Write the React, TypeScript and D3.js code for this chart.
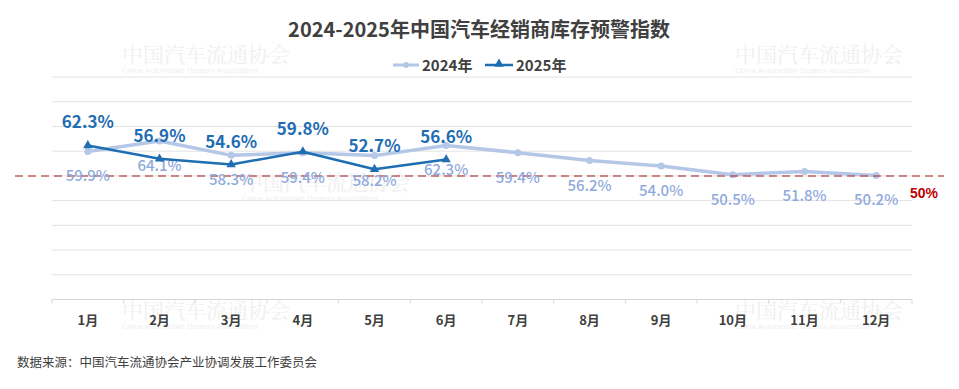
import React from "react";
import * as d3 from "d3";

// data
const MONTHS = ["1月", "2月", "3月", "4月", "5月", "6月", "7月", "8月", "9月", "10月", "11月", "12月"];
const VALUES_2024 = [59.9, 64.1, 58.3, 59.4, 58.2, 62.3, 59.4, 56.2, 54.0, 50.5, 51.8, 50.2];
const VALUES_2025 = [62.3, 56.9, 54.6, 59.8, 52.7, 56.6];
const Y_TICKS = [0, 10, 20, 30, 40, 50, 60, 70, 80, 90];
const WARN_LINE = 50;
const WATERMARKS = [
  [122, 62],
  [735, 62],
  [242, 190],
  [122, 318],
  [735, 318],
];

const W = 959;
const H = 389;
const FONT = '"Noto Sans CJK SC", "Noto Sans", sans-serif';
const C2024 = "#b4c7e7";
const C2024_TEXT = "#8faadc";
const C2025 = "#1f6db3";
const TEXT = "#404040";

export default function App() {
  const x = d3.scaleBand<string>().domain(MONTHS).range([52, 912]);
  const y = d3.scaleLinear().domain([0, 90]).range([299.5, 77]);
  const cx = (i: number) => (x(MONTHS[i]) as number) + x.bandwidth() / 2;

  const line = d3
    .line<number>()
    .x((_, i) => cx(i))
    .y((d) => y(d));

  const tri = d3.symbol().type(d3.symbolTriangle).size(38)() as string;

  return (
    <svg
      width={W}
      height={H}
      style={{ position: "absolute", left: 0, top: 0, background: "#fff" }}
      fontFamily={FONT}
    >
      {/* watermarks */}
      {WATERMARKS.map(([wx, wy], i) => (
        <g key={i} opacity={0.45}>
          <text x={wx} y={wy} fontSize={21} fontFamily='"Noto Serif CJK SC", serif' fill="#dddddd">
            中国汽车流通协会
          </text>
          <text x={wx} y={wy + 11} fontSize={8} fontFamily="Liberation Sans" fill="#dddddd">
            China Automobile Dealers Association
          </text>
        </g>
      ))}

      <text x={479} y={37} textAnchor="middle" fontSize={20} fontWeight="bold" fill={TEXT}>
        2024-2025年中国汽车经销商库存预警指数
      </text>

      {/* legend */}
      <g>
        <line x1={393} x2={419} y1={65} y2={65} stroke={C2024} strokeWidth={3} />
        <circle cx={406} cy={65} r={3} fill={C2024} />
        <text x={422} y={71} fontSize={15} fontWeight="bold" fill={TEXT}>
          2024年
        </text>
        <line x1={485} x2={513} y1={65} y2={65} stroke={C2025} strokeWidth={2.5} />
        <path d={tri} transform="translate(499,64)" fill={C2025} />
        <text x={516} y={71} fontSize={15} fontWeight="bold" fill={TEXT}>
          2025年
        </text>
      </g>

      {/* grid */}
      {Y_TICKS.filter((t) => t > 0).map((t) => (
        <line key={t} x1={52} x2={912} y1={y(t)} y2={y(t)} stroke="#e3e3e3" strokeWidth={1} />
      ))}
      <line x1={52} x2={912} y1={y(0)} y2={y(0)} stroke="#d6d6d6" strokeWidth={1} />
      {d3.range(MONTHS.length + 1).map((i) => {
        const tx = 52 + i * x.bandwidth();
        return <line key={i} x1={tx} x2={tx} y1={y(0)} y2={y(0) + 4} stroke="#d6d6d6" />;
      })}

      {MONTHS.map((m, i) => (
        <text key={m} x={cx(i)} y={325} textAnchor="middle" fontSize={13} fontWeight="bold" fill={TEXT}>
          {m}
        </text>
      ))}

      {/* 2024 series */}
      <path d={line(VALUES_2024) as string} fill="none" stroke={C2024} strokeWidth={3.5} strokeLinejoin="round" />
      {VALUES_2024.map((v, i) => (
        <circle key={i} cx={cx(i)} cy={y(v)} r={3.5} fill={C2024} />
      ))}

      {/* warning line */}
      <line
        x1={15}
        x2={944}
        y1={y(WARN_LINE)}
        y2={y(WARN_LINE)}
        stroke="#b5474a"
        strokeWidth={1.5}
        strokeDasharray="8,5"
        opacity={0.85}
      />
      <text
        x={924}
        y={198}
        textAnchor="middle"
        fontSize={14}
        fontWeight="bold"
        fontFamily='"Liberation Sans Narrow", "Liberation Sans", sans-serif'
        fill="#c00000"
      >
        {WARN_LINE}%
      </text>

      {VALUES_2024.map((v, i) => (
        <text key={i} x={cx(i)} y={y(v) + 30} textAnchor="middle" fontSize={15} fontWeight={500} fill={C2024_TEXT}>
          {v.toFixed(1)}%
        </text>
      ))}

      {/* 2025 series */}
      <path d={line(VALUES_2025) as string} fill="none" stroke={C2025} strokeWidth={2.5} strokeLinejoin="round" />
      {VALUES_2025.map((v, i) => (
        <path key={i} d={tri} transform={`translate(${cx(i)},${y(v)})`} fill={C2025} />
      ))}
      {VALUES_2025.map((v, i) => (
        <text key={i} x={cx(i)} y={y(v) - 17} textAnchor="middle" fontSize={17} fontWeight="bold" fill={C2025}>
          {v.toFixed(1)}%
        </text>
      ))}

      <text x={17} y={367} fontSize={12.5} fill={TEXT}>
        数据来源：中国汽车流通协会产业协调发展工作委员会
      </text>
    </svg>
  );
}
